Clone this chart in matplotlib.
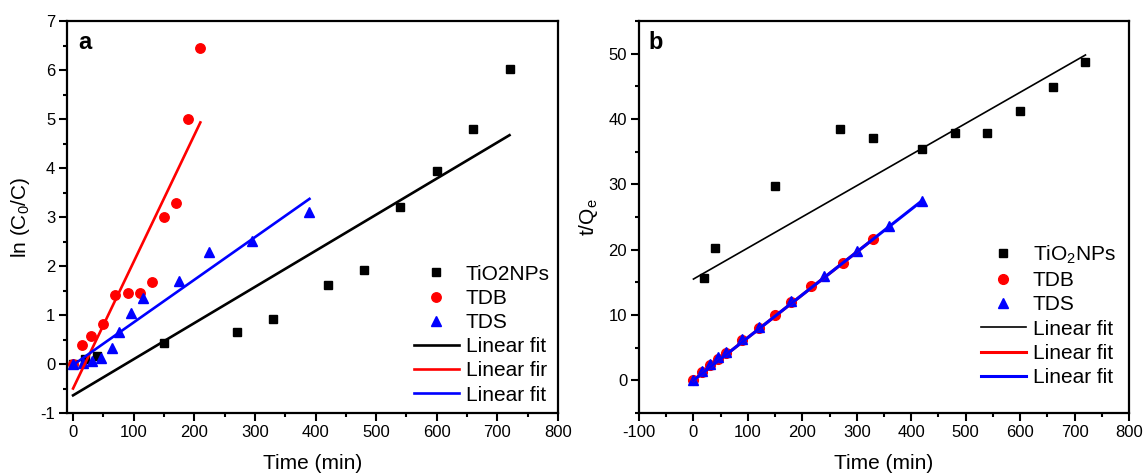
import numpy as np
import matplotlib
matplotlib.use('Agg')
import matplotlib.pyplot as plt
from matplotlib.ticker import MultipleLocator

plt.rcParams['font.family'] = ['Liberation Sans', 'DejaVu Sans']
plt.rcParams['mathtext.default'] = 'regular'
plt.rcParams['axes.unicode_minus'] = False

# ---- panel a: pseudo-first-order, ln(C0/C) vs time ----
a_tio2_t = [0, 20, 40, 150, 270, 330, 420, 480, 540, 600, 660, 720]
a_tio2_y = [0.0, 0.1, 0.17, 0.42, 0.65, 0.92, 1.61, 1.92, 3.21, 3.93, 4.8, 6.02]
a_tdb_t = [0, 15, 30, 50, 70, 90, 110, 130, 150, 170, 190, 210]
a_tdb_y = [0.0, 0.39, 0.57, 0.82, 1.41, 1.44, 1.45, 1.67, 3.0, 3.29, 5.01, 6.45]
a_tds_t = [0, 16, 32, 46, 65, 75, 95, 115, 175, 225, 295, 390]
a_tds_y = [0.0, 0.03, 0.07, 0.13, 0.32, 0.65, 1.05, 1.35, 1.7, 2.28, 2.52, 3.1]
a_fit_tio2 = ([0, 720], [-0.64, 4.67])
a_fit_tdb = ([0, 210], [-0.5, 4.93])
a_fit_tds = ([0, 390], [-0.02, 3.37])

# ---- panel b: pseudo-second-order, t/Qe vs time ----
b_tio2_t = [20, 40, 150, 270, 330, 420, 480, 540, 600, 660, 720]
b_tio2_y = [15.6, 20.2, 29.8, 38.5, 37.1, 35.4, 37.9, 37.9, 41.3, 44.9, 48.7]
b_tdb_t = [0, 15, 30, 45, 60, 90, 120, 150, 180, 215, 275, 330]
b_tdb_y = [0.0, 1.2, 2.4, 3.3, 4.2, 6.1, 8.0, 10.0, 12.0, 14.4, 18.0, 21.6]
b_tds_t = [0, 15, 30, 45, 60, 90, 120, 180, 240, 300, 360, 420]
b_tds_y = [0.0, 1.4, 2.5, 3.5, 4.4, 6.3, 8.1, 12.1, 15.9, 19.8, 23.6, 27.5]
b_fit_tio2 = ([0, 720], [15.5, 49.8])
b_fit_tdb = ([0, 330], [0.0, 21.6])
b_fit_tds = ([0, 420], [0.0, 27.5])

W, H = 1143, 475
fig = plt.figure(figsize=(W / 100, H / 100), dpi=100)
ax_a = fig.add_axes([67 / W, 62 / H, 491 / W, 392 / H])
ax_b = fig.add_axes([639 / W, 62 / H, 490 / W, 392 / H])


def style(ax):
    for s in ax.spines.values():
        s.set_linewidth(1.6)
    ax.tick_params(which='major', direction='out', length=5.5, width=1.5,
                   labelsize=12, pad=3, top=False, right=False)
    ax.tick_params(which='minor', direction='out', length=3, width=1.5,
                   top=False, right=False)


leg_kw = dict(frameon=False, fontsize=15, handlelength=2.15, handletextpad=0.33,
              labelspacing=0.25, borderaxespad=0.2, borderpad=0.2)

# panel a
ax_a.plot(a_tio2_t, a_tio2_y, 's', color='black', ms=6, label='TiO2NPs')
ax_a.plot(a_tdb_t, a_tdb_y, 'o', color='red', ms=6.8, label='TDB')
ax_a.plot(a_tds_t, a_tds_y, '^', color='blue', ms=7.5, label='TDS')
ax_a.plot(*a_fit_tio2, color='black', lw=1.9, label='Linear fit')
ax_a.plot(*a_fit_tdb, color='red', lw=1.9, label='Linear fir')
ax_a.plot(*a_fit_tds, color='blue', lw=1.9, label='Linear fit')
ax_a.set_xlim(-10, 800)
ax_a.set_ylim(-1, 7)
ax_a.xaxis.set_major_locator(MultipleLocator(100))
ax_a.xaxis.set_minor_locator(MultipleLocator(50))
ax_a.yaxis.set_major_locator(MultipleLocator(1))
ax_a.yaxis.set_minor_locator(MultipleLocator(0.5))
ax_a.set_xlabel('Time (min)', fontsize=15, labelpad=10)
ax_a.set_ylabel('ln (C$_0$/C)', fontsize=15, labelpad=6)
ax_a.text(0.022, 0.945, 'a', transform=ax_a.transAxes, fontsize=17,
          fontweight='bold', va='center', ha='left')
style(ax_a)
ax_a.legend(loc='lower right', bbox_to_anchor=(1.0, 0.0), **leg_kw)

# panel b
ax_b.plot(b_tio2_t, b_tio2_y, 's', color='black', ms=6.2, label='TiO$_2$NPs')
ax_b.plot(b_tdb_t, b_tdb_y, 'o', color='red', ms=7, label='TDB')
ax_b.plot(b_tds_t, b_tds_y, '^', color='blue', ms=7.2, label='TDS')
ax_b.plot(*b_fit_tio2, color='black', lw=1.2, label='Linear fit')
ax_b.plot(*b_fit_tdb, color='red', lw=2.2, label='Linear fit')
ax_b.plot(*b_fit_tds, color='blue', lw=2.2, label='Linear fit')
ax_b.set_xlim(-100, 800)
ax_b.set_ylim(-5, 55)
ax_b.xaxis.set_major_locator(MultipleLocator(100))
ax_b.xaxis.set_minor_locator(MultipleLocator(50))
ax_b.yaxis.set_major_locator(MultipleLocator(10))
ax_b.yaxis.set_minor_locator(MultipleLocator(5))
ax_b.set_xlabel('Time (min)', fontsize=15, labelpad=10)
ax_b.set_ylabel('t/Q$_e$', fontsize=15, labelpad=6)
ax_b.text(0.02, 0.945, 'b', transform=ax_b.transAxes, fontsize=17,
          fontweight='bold', va='center', ha='left')
style(ax_b)
ax_b.legend(loc='lower right', bbox_to_anchor=(0.99, 0.045), **leg_kw)

fig.savefig('out.png', dpi=100)
